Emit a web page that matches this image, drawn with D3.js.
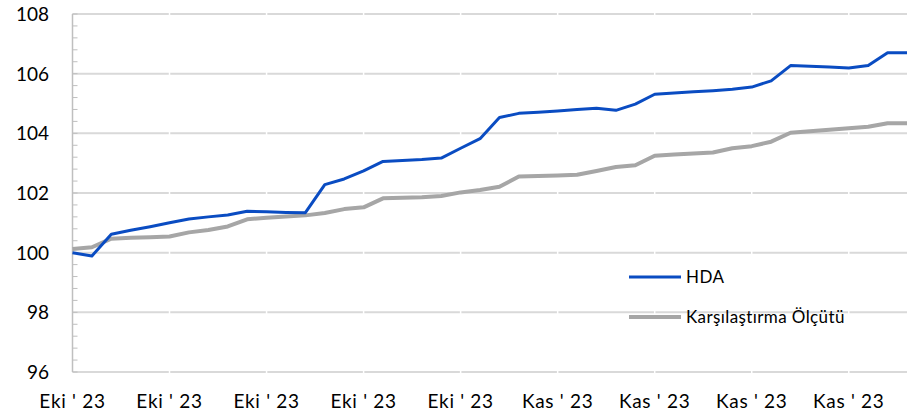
<!DOCTYPE html>
<html>
<head>
<meta charset="utf-8">
<script src="https://cdn.jsdelivr.net/npm/d3@7"></script>
<style>
  body { margin: 0; background: #fff; }
  svg text { font-family: Lato, "Open Sans", sans-serif; fill: #000; }
</style>
</head>
<body>
<svg id="chart" width="920" height="418"></svg>
<script>
// labels shown every 5th point
var xLabels = ["Eki ' 23", "Eki ' 23", "Eki ' 23", "Eki ' 23", "Eki ' 23",
               "Kas ' 23", "Kas ' 23", "Kas ' 23", "Kas ' 23"];
var labelEvery = 5;

var hda = [100.0, 99.89, 100.62, 100.75, 100.87, 101.0, 101.13, 101.2, 101.26, 101.39,
           101.37, 101.35, 101.34, 102.28, 102.47, 102.74, 103.06, 103.09, 103.12, 103.17,
           103.5, 103.82, 104.53, 104.67, 104.71, 104.75, 104.8, 104.84, 104.77, 104.98,
           105.31, 105.35, 105.39, 105.43, 105.48, 105.55, 105.76, 106.27, 106.25, 106.22,
           106.19, 106.27, 106.7, 106.7];

var benchmark = [100.12, 100.18, 100.47, 100.5, 100.52, 100.54, 100.68, 100.76, 100.88, 101.12,
                 101.17, 101.21, 101.25, 101.33, 101.46, 101.52, 101.82, 101.84, 101.86, 101.9,
                 102.02, 102.1, 102.21, 102.55, 102.57, 102.59, 102.61, 102.74, 102.87, 102.93,
                 103.25, 103.29, 103.32, 103.36, 103.5, 103.57, 103.72, 104.02, 104.07, 104.12,
                 104.17, 104.22, 104.34, 104.34];

var yTicks = [96, 98, 100, 102, 104, 106, 108];

var seriesNames = ["HDA", "Karşılaştırma Ölçütü"];
var seriesColors = ["#0a4cc2", "#a6a6a6"];

function draw(){
    var svg = d3.select("svg#chart");
    var left = 72.5, right = 907, top = 14, bottom = 372;

    var x = d3.scaleLinear().domain([0, hda.length - 1]).range([left, right]);
    var y = d3.scaleLinear().domain([96, 108]).range([bottom, top]);

    // horizontal gridlines
    svg.append("g").selectAll("line")
        .data(yTicks)
        .enter().append("line")
        .attr("x1", left).attr("x2", right)
        .attr("y1", d => y(d)).attr("y2", d => y(d))
        .attr("stroke", "#d9d9d9").attr("stroke-width", 2);

    // little white breaks at the category ticks
    var catTicks = d3.range(labelEvery, hda.length - 1, labelEvery);
    svg.append("g").selectAll("line")
        .data(catTicks)
        .enter().append("line")
        .attr("x1", d => x(d)).attr("x2", d => x(d))
        .attr("y1", top - 2).attr("y2", bottom + 2)
        .attr("stroke", "#fff").attr("stroke-width", 1.5);

    // y axis line + minor ticks
    var minor = d3.range(96, 108.001, 0.4);
    svg.append("g").selectAll("line")
        .data(minor)
        .enter().append("line")
        .attr("x1", left).attr("x2", left + 5)
        .attr("y1", d => y(d)).attr("y2", d => y(d))
        .attr("stroke", "#bfbfbf").attr("stroke-width", 1);
    svg.append("line")
        .attr("x1", left).attr("x2", left)
        .attr("y1", top).attr("y2", bottom)
        .attr("stroke", "#bfbfbf").attr("stroke-width", 1.5);

    // y labels
    svg.append("g").selectAll("text")
        .data(yTicks)
        .enter().append("text")
        .attr("x", 49).attr("y", d => y(d))
        .attr("dy", "0.36em")
        .attr("text-anchor", "end")
        .style("font-size", "19px")
        .text(d => d);

    // x labels
    svg.append("g").selectAll("text")
        .data(xLabels)
        .enter().append("text")
        .attr("x", (d, i) => x(i * labelEvery))
        .attr("y", 408)
        .attr("text-anchor", "middle")
        .style("font-size", "19px")
        .style("letter-spacing", "0.7px")
        .text(d => d);

    var line = d3.line().x((d, i) => x(i)).y(d => y(d));

    svg.append("path").datum(benchmark)
        .attr("d", line).attr("fill", "none")
        .attr("stroke", seriesColors[1]).attr("stroke-width", 4)
        .attr("stroke-linejoin", "round");
    svg.append("path").datum(hda)
        .attr("d", line).attr("fill", "none")
        .attr("stroke", seriesColors[0]).attr("stroke-width", 3)
        .attr("stroke-linejoin", "round");

    // legend
    var lg = svg.append("g");
    var rows = lg.selectAll("g")
        .data(seriesNames)
        .enter().append("g")
        .attr("transform", (d, i) => `translate(629,${277 + i * 40})`);
    rows.append("line")
        .attr("x1", 0).attr("x2", 52)
        .attr("stroke", (d, i) => seriesColors[i])
        .attr("stroke-width", (d, i) => i ? 4 : 3);
    rows.append("text")
        .attr("x", 57).attr("dy", "0.36em")
        .style("font-size", "17px")
        .style("letter-spacing", "0.4px")
        .text(d => d);
}

draw();
</script>
</body>
</html>
